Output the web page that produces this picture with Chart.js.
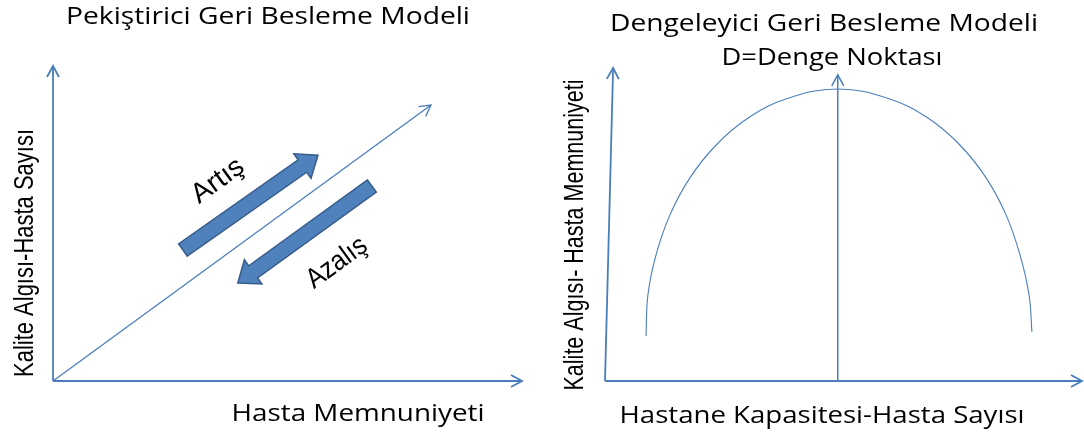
<!DOCTYPE html>
<html>
<head>
<meta charset="utf-8">
<script src="https://cdn.jsdelivr.net/npm/chart.js@4.4.1/dist/chart.umd.min.js"></script>
<style>
  body { margin: 0; background: #fff; }
  #wrap { position: relative; width: 1084px; height: 432px; }
  canvas { position: absolute; top: 0; }
</style>
</head>
<body>
<div id="wrap">
  <canvas id="leftChart" width="542" height="432" style="left:0;width:542px;height:432px"></canvas>
  <canvas id="rightChart" width="542" height="432" style="left:542px;width:542px;height:432px"></canvas>
</div>
<script>
// left panel - Pekiştirici Geri Besleme Modeli (units 0..10 on both axes)
const leftAxisX = [[0, 0], [10, 0]];
const leftAxisY = [[0, 0], [0, 10]];
const leftDiagonal = [[0, 0], [8.06, 8.76]];
const artisArrow = [[2.77, 4.16], [5.65, 7.17]];
const azalisArrow = [[6.80, 6.19], [3.94, 3.11]];

// right panel - Dengeleyici Geri Besleme Modeli
const rightAxisX = [[0, 0], [10, 0]];
const rightAxisY = [[0, 0], [0.17, 10]];
const dengeLine = [[4.88, 0], [4.88, 9.78]];
const arcX = [0.86, 0.90, 1.07, 1.36, 1.78, 2.33, 3.00, 3.79, 4.88, 5.97, 6.77, 7.44, 7.99, 8.41, 8.70, 8.89, 8.95];
const arcY = [1.44, 2.75, 4.03, 5.30, 6.49, 7.54, 8.40, 9.01, 9.33, 9.01, 8.40, 7.54, 6.49, 5.30, 4.03, 2.75, 1.57];

// texts
const leftTitle = 'Pekiştirici Geri Besleme Modeli';
const leftYLabel = 'Kalite Algısı-Hasta Sayısı';
const leftXLabel = 'Hasta Memnuniyeti';
const artisLabel = 'Artış';
const azalisLabel = 'Azalış';
const rightTitle = 'Dengeleyici Geri Besleme Modeli';
const rightSubtitle = 'D=Denge Noktası';
const rightYLabel = 'Kalite Algısı- Hasta Memnuniyeti';
const rightXLabel = 'Hastane Kapasitesi-Hasta Sayısı';

const LINE = '#4A7EBB';
const FILL = '#4F81BD';
const EDGE = '#385D8A';

function pts(pairs) {
  return pairs.map(p => ({ x: p[0], y: p[1] }));
}

function line(pairs, width, head, tension) {
  return {
    data: pts(pairs),
    showLine: true,
    borderColor: LINE,
    borderWidth: width,
    pointRadius: 0,
    fill: false,
    clip: false,
    tension: tension || 0,
    head: head
  };
}

function block(pairs) {
  return { data: pts(pairs), showLine: false, pointRadius: 0, block: true };
}

// draws arrow heads, block arrows and the texts
const decor = {
  id: 'decor',
  afterDatasetsDraw(chart, args, opts) {
    const ctx = chart.ctx;
    const xs = chart.scales.x, ys = chart.scales.y;
    chart.data.datasets.forEach(ds => {
      const p = ds.data.map(d => ({ x: xs.getPixelForValue(d.x), y: ys.getPixelForValue(d.y) }));
      const a = p[p.length - 2], b = p[p.length - 1];
      const len = Math.hypot(b.x - a.x, b.y - a.y);
      const ux = (b.x - a.x) / len, uy = (b.y - a.y) / len;
      const nx = -uy, ny = ux;
      if (ds.head) {
        ctx.save();
        ctx.strokeStyle = LINE;
        ctx.lineWidth = ds.borderWidth;
        ctx.beginPath();
        ctx.moveTo(b.x - ux * 11 + nx * 6, b.y - uy * 11 + ny * 6);
        ctx.lineTo(b.x, b.y);
        ctx.lineTo(b.x - ux * 11 - nx * 6, b.y - uy * 11 - ny * 6);
        ctx.stroke();
        ctx.restore();
      }
      if (ds.block) {
        const w = 7.5, hw = 15, hl = 19;
        const bx = b.x - ux * hl, by = b.y - uy * hl;
        ctx.save();
        ctx.fillStyle = FILL;
        ctx.strokeStyle = EDGE;
        ctx.lineWidth = 1.5;
        ctx.lineJoin = 'miter';
        ctx.beginPath();
        ctx.moveTo(a.x + nx * w, a.y + ny * w);
        ctx.lineTo(bx + nx * w, by + ny * w);
        ctx.lineTo(bx + nx * hw, by + ny * hw);
        ctx.lineTo(b.x, b.y);
        ctx.lineTo(bx - nx * hw, by - ny * hw);
        ctx.lineTo(bx - nx * w, by - ny * w);
        ctx.lineTo(a.x - nx * w, a.y - ny * w);
        ctx.closePath();
        ctx.fill();
        ctx.stroke();
        ctx.restore();
      }
    });
    (opts.texts || []).forEach(t => {
      ctx.save();
      ctx.font = t.size + 'px ' + t.family;
      ctx.fillStyle = '#000';
      ctx.textAlign = 'center';
      ctx.textBaseline = t.baseline || 'alphabetic';
      const sx = t.width / ctx.measureText(t.text).width;
      ctx.translate(t.x, t.y);
      ctx.rotate((t.angle || 0) * Math.PI / 180);
      ctx.scale(sx, 1);
      ctx.fillText(t.text, 0, 0);
      ctx.restore();
    });
  }
};

function makeChart(id, datasets, padding, texts) {
  return new Chart(document.getElementById(id), {
    type: 'scatter',
    data: { datasets: datasets },
    options: {
      responsive: false,
      animation: false,
      layout: { padding: padding },
      scales: {
        x: { display: false, min: 0, max: 10 },
        y: { display: false, min: 0, max: 10 }
      },
      plugins: {
        legend: { display: false },
        tooltip: { enabled: false },
        decor: { texts: texts }
      }
    },
    plugins: [decor]
  });
}

const WIDE = '"Open Sans"';
const NARROW = '"Liberation Sans Narrow", "Liberation Sans"';

makeChart('leftChart', [
  line(leftAxisX, 1.8, true),
  line(leftAxisY, 1.8, true),
  line(leftDiagonal, 1.3, true),
  block(artisArrow),
  block(azalisArrow)
], { left: 53, right: 20, top: 66, bottom: 51 }, [
  { text: leftTitle, x: 268, y: 24, size: 23, width: 404, family: WIDE },
  { text: leftXLabel, x: 358, y: 421, size: 23, width: 253, family: WIDE },
  { text: leftYLabel, x: 33, y: 253, size: 28, width: 248, family: NARROW, angle: -90 },
  { text: artisLabel, x: 218, y: 181, size: 28, width: 58, family: NARROW, angle: -36, baseline: 'middle' },
  { text: azalisLabel, x: 337, y: 263, size: 28, width: 68, family: NARROW, angle: -36, baseline: 'middle' }
]);

makeChart('rightChart', [
  line(rightAxisX, 1.8, true),
  line(rightAxisY, 1.8, true),
  line(dengeLine, 1.5, true),
  line(arcX.map((x, i) => [x, arcY[i]]), 1.1, false, 0.4)
], { left: 63, right: 2, top: 68, bottom: 51 }, [
  { text: rightTitle, x: 282, y: 31, size: 23, width: 428, family: WIDE },
  { text: rightSubtitle, x: 290, y: 65, size: 23, width: 221, family: WIDE },
  { text: rightXLabel, x: 280, y: 423, size: 23, width: 405, family: WIDE },
  { text: rightYLabel, x: 41, y: 235, size: 28, width: 311, family: NARROW, angle: -90 }
]);
</script>
</body>
</html>
